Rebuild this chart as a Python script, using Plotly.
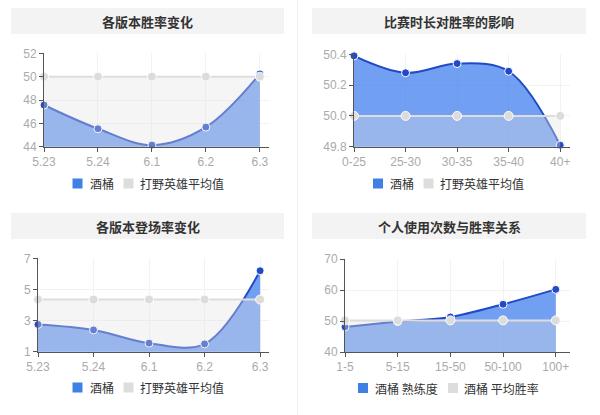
import plotly.graph_objects as go

W, H = 600, 415

# ---------------- data ----------------
versions = ["5.23", "5.24", "6.1", "6.2", "6.3"]
winrate_hero = [47.57, 45.54, 44.14, 45.68, 50.23]
winrate_avg = [50.0, 50.0, 50.0, 50.0, 50.0]

durations = ["0-25", "25-30", "30-35", "35-40", "40+"]
duration_hero = [50.39, 50.28, 50.34, 50.29, 49.81]
duration_avg = [50.0, 50.0, 50.0, 50.0, 50.0]

pickrate_hero = [2.75, 2.4, 1.55, 1.5, 6.2]
pickrate_avg = [4.35, 4.35, 4.35, 4.35, 4.35]

games = ["1-5", "5-15", "15-50", "50-100", "100+"]
games_hero = [48.1, 49.8, 51.3, 55.4, 60.2]
games_avg = [50.2, 50.2, 50.2, 50.2, 50.2]

titles = ["各版本胜率变化", "比赛时长对胜率的影响", "各版本登场率变化", "个人使用次数与胜率关系"]
legend_names = [["酒桶", "打野英雄平均值"], ["酒桶", "打野英雄平均值"],
                ["酒桶", "打野英雄平均值"], ["酒桶 熟练度", "酒桶 平均胜率"]]

panels = [
    dict(cats=versions, a=winrate_hero, b=winrate_avg, yr=[44, 52], dt=2, fmt="d"),
    dict(cats=durations, a=duration_hero, b=duration_avg, yr=[49.8, 50.4], dt=0.2, fmt=".1f"),
    dict(cats=versions, a=pickrate_hero, b=pickrate_avg, yr=[1, 7], dt=2, fmt="d"),
    dict(cats=games, a=games_hero, b=games_avg, yr=[40, 70], dt=10, fmt="d"),
]

# ---------------- layout geometry (pixels) ----------------
boxes = [
    (44, 269, 53.3, 146.7, 4.17),
    (354, 570, 54.3, 146.7, 4.19),
    (38, 269, 258.3, 351.7, 4.16),
    (345, 570, 259, 352, 4.27),
]
title_boxes = [(11, 284, 8, 34), (312, 586, 8, 34), (11, 284, 213, 239), (312, 586, 213, 239)]
legend_pos = [
    (72.5, 88, 123.5, 138, 183.5),
    (373, 388, 423.5, 438, 183.5),
    (72.5, 88, 123.5, 138, 387.5),
    (358, 373, 448, 462, 388),
]

def px(x):
    return x / W

def py(y):
    return 1 - y / H

BLUE_LINE = "#2249c6"
BLUE_FILL = "rgba(58,122,236,0.72)"
GRAY_LINE = "#dddddd"
GRAY_FILL = "rgba(225,225,225,0.35)"
AXIS_COL = "#555555"
TICK_COL = "#aaaaaa"
GRID_COL = "#f2f2f2"
CJK = "Noto Sans CJK SC"
LAT = "Liberation Sans, Arial, sans-serif"

fig = go.Figure()
layout = dict(
    width=W, height=H, margin=dict(l=0, r=0, t=0, b=0, autoexpand=False),
    paper_bgcolor="white", plot_bgcolor="white", showlegend=False,
    shapes=[], annotations=[],
)

for i, p in enumerate(panels):
    n = "" if i == 0 else str(i + 1)
    xa, ya = "x" + n, "y" + n
    fig.add_trace(go.Scatter(
        x=p["cats"], y=p["a"], xaxis=xa, yaxis=ya, mode="lines+markers",
        line=dict(color=BLUE_LINE, width=2, shape="spline", smoothing=1),
        marker=dict(size=8, color=BLUE_LINE, line=dict(color="white", width=1)),
        fill="tozeroy", fillcolor=BLUE_FILL, cliponaxis=False, name=legend_names[i][0]))
    fig.add_trace(go.Scatter(
        x=p["cats"], y=p["b"], xaxis=xa, yaxis=ya, mode="lines+markers",
        line=dict(color=GRAY_LINE, width=2, shape="spline", smoothing=1),
        marker=dict(size=9, color="#dcdcdc", line=dict(color="white", width=1)),
        fill="tozeroy", fillcolor=GRAY_FILL, cliponaxis=False, name=legend_names[i][1]))

    x0, x1, yt, yb, xend = boxes[i]
    lo, hi = p["yr"]
    layout["xaxis" + n] = dict(
        domain=[px(x0), px(x1)], anchor=ya, type="category", range=[0, xend],
        automargin=False,
        showline=True, linecolor=AXIS_COL, linewidth=1,
        ticks="outside", ticklen=4, tickcolor=AXIS_COL,
        showgrid=True, gridcolor=GRID_COL, zeroline=False,
        tickfont=dict(family=LAT, size=12, color=TICK_COL), fixedrange=True)
    layout["yaxis" + n] = dict(
        domain=[py(yb), py(yt)], anchor=xa, range=[lo, hi],
        tick0=lo, dtick=p["dt"], tickformat=p["fmt"], automargin=False,
        showline=True, linecolor=AXIS_COL, linewidth=1,
        ticks="outside", ticklen=4, tickcolor=AXIS_COL,
        showgrid=True, gridcolor=GRID_COL, zeroline=False,
        tickfont=dict(family=LAT, size=12, color=TICK_COL), fixedrange=True)

    tx0, tx1, ty0, ty1 = title_boxes[i]
    layout["shapes"].append(dict(type="rect", xref="paper", yref="paper",
                                 x0=px(tx0), x1=px(tx1), y0=py(ty1), y1=py(ty0),
                                 fillcolor="#f3f3f3", line=dict(width=0), layer="below"))
    layout["annotations"].append(dict(
        text="<b>" + titles[i] + "</b>", xref="paper", yref="paper",
        x=px((tx0 + tx1) / 2), y=py((ty0 + ty1) / 2), xanchor="center", yanchor="middle",
        showarrow=False, font=dict(family=CJK, size=13, color="#333333")))

    s1, t1, s2, t2, ly = legend_pos[i]
    for sx, col in ((s1, "#3f80e4"), (s2, "#dddddd")):
        layout["shapes"].append(dict(type="rect", xref="paper", yref="paper",
                                     x0=px(sx), x1=px(sx + 10), y0=py(ly + 5), y1=py(ly - 5),
                                     fillcolor=col, line=dict(width=0)))
    for tx, name in ((t1, legend_names[i][0]), (t2, legend_names[i][1])):
        layout["annotations"].append(dict(
            text=name, xref="paper", yref="paper", x=px(tx), y=py(ly),
            xanchor="left", yanchor="middle", showarrow=False,
            font=dict(family=CJK, size=12, color="#333333")))

layout["shapes"].append(dict(type="line", xref="paper", yref="paper",
                             x0=px(297.5), x1=px(297.5), y0=0, y1=1,
                             line=dict(color="#f0f0f0", width=1)))

fig.update_layout(**layout)
fig.write_html("out.html", config={"displayModeBar": False},
               post_script="document.body.style.margin='0';document.body.style.overflow='hidden';")
